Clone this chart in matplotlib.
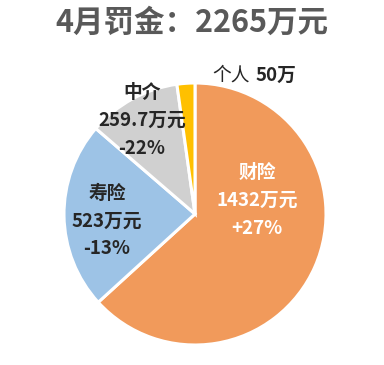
import matplotlib.pyplot as plt

plt.rcParams['font.family'] = ['Noto Sans CJK SC', 'DejaVu Sans']

# data
categories = ["财险", "寿险", "中介", "个人"]
values = [1432, 523, 259.7, 50]
changes = ["+27%", "-13%", "-22%", ""]
colors = ["#F19A5B", "#9DC3E6", "#D0D0D0", "#FFC000"]
title = "4月罚金：2265万元"

W, H = 384, 365
fig = plt.figure(figsize=(W / 100, H / 100), dpi=100)
ax = fig.add_axes([0, 0, 1, 1])

ax.pie(values, colors=colors, startangle=90, counterclock=False,
       center=(195, H - 214), radius=131,
       wedgeprops=dict(edgecolor="white", linewidth=2.2))
ax.set_xlim(0, W)
ax.set_ylim(0, H)
ax.set_aspect("equal")
ax.axis("off")

fig.text(0.5, 1 - 23 / H, title, ha="center", va="center",
         fontsize=22, fontweight="bold", color="#595959")

def block(x, y, lines, color):
    for i, s in enumerate(lines):
        ax.text(x, H - (y + i * 28), s, ha="center", va="center",
                fontsize=13.5, fontweight="bold", color=color)

block(257, 172, [categories[0], f"{values[0]}万元", changes[0]], "white")
block(107, 193, [categories[1], f"{values[1]}万元", changes[1]], "#262626")
block(142, 92, [categories[2], f"{values[2]}万元", changes[2]], "#262626")
ax.text(250, H - 75, categories[3], ha="right", va="center",
        fontsize=13.5, color="#262626")
ax.text(256, H - 75, f"{values[3]}万", ha="left", va="center",
        fontsize=13.5, fontweight="bold", color="#262626")

fig.savefig("out.png", dpi=100)
